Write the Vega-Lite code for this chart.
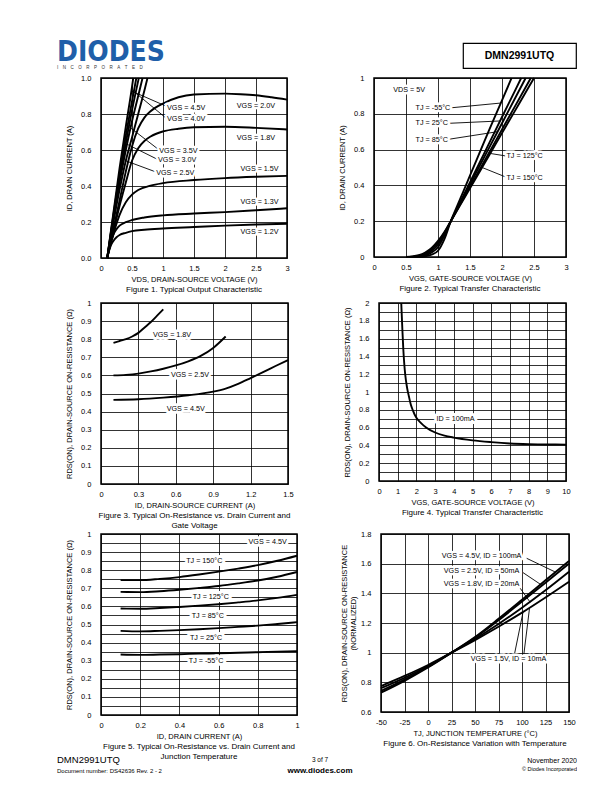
{
"$schema": "https://vega.github.io/schema/vega-lite/v6.json",
"padding": {"left": 57, "top": 30, "right": 0, "bottom": 0},
"background": "white",
"spacing": 3,
"config": {
  "font": "Liberation Sans",
  "view": {"stroke": "black", "strokeWidth": 1.5},
  "axis": {"domain": false, "ticks": false, "grid": true, "gridColor": "black", "gridWidth": 0.8, "gridOpacity": 1, "labelFont": "Liberation Sans", "labelFontSize": 7.5, "labelColor": "black", "labelOverlap": false, "labelFlush": false, "titleFont": "Liberation Sans", "titleFontSize": 7.5, "titleFontWeight": "normal", "titleColor": "black"},
  "axisX": {"labelPadding": 6.5, "titlePadding": 3.5},
  "axisY": {"labelPadding": 10, "titlePadding": 7},
  "title": {"orient": "bottom", "anchor": "middle", "frame": "group", "font": "Liberation Sans", "fontSize": 8, "fontWeight": "normal", "offset": 3, "lineHeight": 9.5, "color": "black"},
  "line": {"color": "black", "strokeWidth": 1.9, "interpolate": "monotone", "clip": true},
  "rule": {"color": "black", "strokeWidth": 0.9},
  "text": {"font": "Liberation Sans", "fontSize": 7.2, "color": "black", "baseline": "middle"}
},
"datasets": {
  "f1": [
    {"s":"1.2","x":0.1,"y":0},{"s":"1.2","x":0.13,"y":0.04},{"s":"1.2","x":0.16,"y":0.07},{"s":"1.2","x":0.2,"y":0.095},{"s":"1.2","x":0.25,"y":0.115},{"s":"1.2","x":0.3,"y":0.128},{"s":"1.2","x":0.4,"y":0.14},{"s":"1.2","x":0.5,"y":0.149},{"s":"1.2","x":0.7,"y":0.157},{"s":"1.2","x":1,"y":0.164},{"s":"1.2","x":1.5,"y":0.172},{"s":"1.2","x":2,"y":0.18},{"s":"1.2","x":2.5,"y":0.186},{"s":"1.2","x":3,"y":0.19},
    {"s":"1.3","x":0.1,"y":0},{"s":"1.3","x":0.13,"y":0.05},{"s":"1.3","x":0.17,"y":0.1},{"s":"1.3","x":0.2,"y":0.13},{"s":"1.3","x":0.25,"y":0.16},{"s":"1.3","x":0.3,"y":0.18},{"s":"1.3","x":0.4,"y":0.199},{"s":"1.3","x":0.5,"y":0.211},{"s":"1.3","x":0.7,"y":0.225},{"s":"1.3","x":1,"y":0.237},{"s":"1.3","x":1.5,"y":0.247},{"s":"1.3","x":2,"y":0.255},{"s":"1.3","x":2.5,"y":0.265},{"s":"1.3","x":3,"y":0.276},
    {"s":"1.5","x":0.1,"y":0},{"s":"1.5","x":0.14,"y":0.06},{"s":"1.5","x":0.2,"y":0.13},{"s":"1.5","x":0.25,"y":0.19},{"s":"1.5","x":0.3,"y":0.24},{"s":"1.5","x":0.4,"y":0.31},{"s":"1.5","x":0.5,"y":0.352},{"s":"1.5","x":0.6,"y":0.378},{"s":"1.5","x":0.8,"y":0.402},{"s":"1.5","x":1,"y":0.416},{"s":"1.5","x":1.5,"y":0.433},{"s":"1.5","x":2,"y":0.444},{"s":"1.5","x":2.5,"y":0.451},{"s":"1.5","x":3,"y":0.456},
    {"s":"1.8","x":0.1,"y":0},{"s":"1.8","x":0.2,"y":0.15},{"s":"1.8","x":0.3,"y":0.29},{"s":"1.8","x":0.4,"y":0.42},{"s":"1.8","x":0.5,"y":0.54},{"s":"1.8","x":0.6,"y":0.61},{"s":"1.8","x":0.7,"y":0.65},{"s":"1.8","x":0.8,"y":0.675},{"s":"1.8","x":1,"y":0.703},{"s":"1.8","x":1.25,"y":0.718},{"s":"1.8","x":1.5,"y":0.726},{"s":"1.8","x":2,"y":0.729},{"s":"1.8","x":2.5,"y":0.723},{"s":"1.8","x":3,"y":0.714},
    {"s":"2.0","x":0.1,"y":0},{"s":"2.0","x":0.2,"y":0.16},{"s":"2.0","x":0.3,"y":0.32},{"s":"2.0","x":0.4,"y":0.48},{"s":"2.0","x":0.5,"y":0.62},{"s":"2.0","x":0.6,"y":0.72},{"s":"2.0","x":0.7,"y":0.78},{"s":"2.0","x":0.8,"y":0.815},{"s":"2.0","x":1,"y":0.858},{"s":"2.0","x":1.25,"y":0.893},{"s":"2.0","x":1.5,"y":0.908},{"s":"2.0","x":2,"y":0.913},{"s":"2.0","x":2.25,"y":0.91},{"s":"2.0","x":2.5,"y":0.904},{"s":"2.0","x":2.75,"y":0.893},{"s":"2.0","x":3,"y":0.88},
    {"s":"2.5","x":0.1,"y":0},{"s":"2.5","x":0.2,"y":0.2},{"s":"2.5","x":0.3,"y":0.38},{"s":"2.5","x":0.4,"y":0.54},{"s":"2.5","x":0.5,"y":0.67},{"s":"2.5","x":0.6,"y":0.8},{"s":"2.5","x":0.7,"y":0.93},{"s":"2.5","x":0.75,"y":1},
    {"s":"3.0","x":0.1,"y":0},{"s":"3.0","x":0.2,"y":0.22},{"s":"3.0","x":0.3,"y":0.42},{"s":"3.0","x":0.4,"y":0.6},{"s":"3.0","x":0.5,"y":0.76},{"s":"3.0","x":0.6,"y":0.9},{"s":"3.0","x":0.67,"y":1},
    {"s":"3.5","x":0.1,"y":0},{"s":"3.5","x":0.2,"y":0.23},{"s":"3.5","x":0.3,"y":0.44},{"s":"3.5","x":0.38,"y":0.6},{"s":"3.5","x":0.5,"y":0.82},{"s":"3.5","x":0.61,"y":1},
    {"s":"4.0","x":0.1,"y":0},{"s":"4.0","x":0.2,"y":0.24},{"s":"4.0","x":0.3,"y":0.47},{"s":"4.0","x":0.4,"y":0.68},{"s":"4.0","x":0.5,"y":0.87},{"s":"4.0","x":0.57,"y":1},
    {"s":"4.5","x":0.1,"y":0},{"s":"4.5","x":0.2,"y":0.25},{"s":"4.5","x":0.3,"y":0.5},{"s":"4.5","x":0.4,"y":0.73},{"s":"4.5","x":0.5,"y":0.95},{"s":"4.5","x":0.52,"y":1}
  ],
  "f1lab": [
    {"t":"VGS = 4.5V","x":1.065,"y":0.836},{"t":"VGS = 4.0V","x":1.065,"y":0.77},{"t":"VGS = 3.5V","x":0.94,"y":0.597},{"t":"VGS = 3.0V","x":0.92,"y":0.544},{"t":"VGS = 2.5V","x":0.89,"y":0.474},
    {"t":"VGS = 2.0V","x":2.19,"y":0.845},{"t":"VGS = 1.8V","x":2.19,"y":0.666},{"t":"VGS = 1.5V","x":2.25,"y":0.496},{"t":"VGS = 1.3V","x":2.25,"y":0.31},{"t":"VGS = 1.2V","x":2.25,"y":0.142}
  ],
  "f1lead": [
    {"x":1.04,"y":0.845,"x2":0.49,"y2":0.928},{"x":1.04,"y":0.78,"x2":0.53,"y2":0.925},{"x":0.92,"y":0.605,"x2":0.45,"y2":0.73},{"x":0.9,"y":0.55,"x2":0.42,"y2":0.632},{"x":0.87,"y":0.48,"x2":0.4,"y2":0.54}
  ],
  "f2": [
    {"s":"-55","x":0.7,"y":0},{"s":"-55","x":0.8,"y":0.004},{"s":"-55","x":0.9,"y":0.013},{"s":"-55","x":1.0,"y":0.035},{"s":"-55","x":1.1,"y":0.1},{"s":"-55","x":1.2,"y":0.2},{"s":"-55","x":1.3,"y":0.285},{"s":"-55","x":1.4,"y":0.37},{"s":"-55","x":1.6,"y":0.54},{"s":"-55","x":1.8,"y":0.71},{"s":"-55","x":2.0,"y":0.875},{"s":"-55","x":2.15,"y":1},
    {"s":"25","x":0.65,"y":0},{"s":"25","x":0.8,"y":0.008},{"s":"25","x":0.9,"y":0.025},{"s":"25","x":1.0,"y":0.055},{"s":"25","x":1.1,"y":0.12},{"s":"25","x":1.2,"y":0.2},{"s":"25","x":1.3,"y":0.272},{"s":"25","x":1.4,"y":0.345},{"s":"25","x":1.6,"y":0.49},{"s":"25","x":1.8,"y":0.636},{"s":"25","x":2.0,"y":0.782},{"s":"25","x":2.2,"y":0.927},{"s":"25","x":2.3,"y":1},
    {"s":"85","x":0.6,"y":0},{"s":"85","x":0.7,"y":0.004},{"s":"85","x":0.8,"y":0.013},{"s":"85","x":0.9,"y":0.035},{"s":"85","x":1.0,"y":0.07},{"s":"85","x":1.1,"y":0.13},{"s":"85","x":1.2,"y":0.2},{"s":"85","x":1.3,"y":0.268},{"s":"85","x":1.4,"y":0.337},{"s":"85","x":1.6,"y":0.474},{"s":"85","x":1.8,"y":0.611},{"s":"85","x":2.0,"y":0.747},{"s":"85","x":2.2,"y":0.884},{"s":"85","x":2.37,"y":1},
    {"s":"125","x":0.55,"y":0},{"s":"125","x":0.7,"y":0.007},{"s":"125","x":0.8,"y":0.02},{"s":"125","x":0.9,"y":0.045},{"s":"125","x":1.0,"y":0.08},{"s":"125","x":1.1,"y":0.135},{"s":"125","x":1.2,"y":0.2},{"s":"125","x":1.4,"y":0.328},{"s":"125","x":1.6,"y":0.456},{"s":"125","x":1.8,"y":0.584},{"s":"125","x":2.0,"y":0.712},{"s":"125","x":2.2,"y":0.84},{"s":"125","x":2.45,"y":1},
    {"s":"150","x":0.5,"y":0},{"s":"150","x":0.6,"y":0.003},{"s":"150","x":0.7,"y":0.01},{"s":"150","x":0.8,"y":0.025},{"s":"150","x":0.9,"y":0.05},{"s":"150","x":1.0,"y":0.09},{"s":"150","x":1.1,"y":0.14},{"s":"150","x":1.2,"y":0.2},{"s":"150","x":1.4,"y":0.323},{"s":"150","x":1.6,"y":0.446},{"s":"150","x":1.8,"y":0.569},{"s":"150","x":2.0,"y":0.692},{"s":"150","x":2.2,"y":0.815},{"s":"150","x":2.4,"y":0.938},{"s":"150","x":2.5,"y":1}
  ],
  "f2lab": [
    {"t":"VDS = 5V","x":0.3,"y":0.935},{"t":"TJ = -55°C","x":0.65,"y":0.832},{"t":"TJ = 25°C","x":0.65,"y":0.746},{"t":"TJ = 85°C","x":0.65,"y":0.655},{"t":"TJ = 125°C","x":2.07,"y":0.565},{"t":"TJ = 150°C","x":2.07,"y":0.444}
  ],
  "f2lead": [
    {"x":1.16,"y":0.832,"x2":1.98,"y2":0.86},{"x":1.12,"y":0.746,"x2":1.97,"y2":0.76},{"x":1.12,"y":0.655,"x2":1.93,"y2":0.7},{"x":2.05,"y":0.565,"x2":1.79,"y2":0.58},{"x":2.05,"y":0.448,"x2":1.69,"y2":0.5}
  ],
  "f3": [
    {"s":"1.8","x":0.1,"y":0.78},{"s":"1.8","x":0.15,"y":0.79},{"s":"1.8","x":0.2,"y":0.8},{"s":"1.8","x":0.25,"y":0.815},{"s":"1.8","x":0.3,"y":0.835},{"s":"1.8","x":0.35,"y":0.865},{"s":"1.8","x":0.4,"y":0.895},{"s":"1.8","x":0.45,"y":0.93},{"s":"1.8","x":0.5,"y":0.965},
    {"s":"2.5","x":0.1,"y":0.6},{"s":"2.5","x":0.2,"y":0.603},{"s":"2.5","x":0.3,"y":0.61},{"s":"2.5","x":0.4,"y":0.622},{"s":"2.5","x":0.5,"y":0.637},{"s":"2.5","x":0.6,"y":0.655},{"s":"2.5","x":0.7,"y":0.678},{"s":"2.5","x":0.8,"y":0.708},{"s":"2.5","x":0.9,"y":0.752},{"s":"2.5","x":1.0,"y":0.815},
    {"s":"4.5","x":0.1,"y":0.465},{"s":"4.5","x":0.3,"y":0.468},{"s":"4.5","x":0.5,"y":0.477},{"s":"4.5","x":0.7,"y":0.49},{"s":"4.5","x":0.9,"y":0.51},{"s":"4.5","x":1.0,"y":0.527},{"s":"4.5","x":1.1,"y":0.553},{"s":"4.5","x":1.2,"y":0.585},{"s":"4.5","x":1.3,"y":0.618},{"s":"4.5","x":1.4,"y":0.652},{"s":"4.5","x":1.5,"y":0.685}
  ],
  "f3lab": [
    {"t":"VGS = 1.8V","x":0.57,"y":0.825},{"t":"VGS = 2.5V","x":0.714,"y":0.601},{"t":"VGS = 4.5V","x":0.68,"y":0.417}
  ],
  "f4": [
    {"x":1.19,"y":2},{"x":1.22,"y":1.85},{"x":1.25,"y":1.7},{"x":1.3,"y":1.48},{"x":1.35,"y":1.32},{"x":1.4,"y":1.2},{"x":1.5,"y":1.05},{"x":1.6,"y":0.95},{"x":1.7,"y":0.86},{"x":1.8,"y":0.8},{"x":2,"y":0.71},{"x":2.25,"y":0.65},{"x":2.5,"y":0.605},{"x":3,"y":0.545},{"x":3.5,"y":0.51},{"x":4,"y":0.488},{"x":5,"y":0.457},{"x":6,"y":0.437},{"x":7,"y":0.422},{"x":8,"y":0.414},{"x":9,"y":0.41},{"x":10,"y":0.409}
  ],
  "f4lab": [{"t":"ID = 100mA","x":4.09,"y":0.7}],
  "f5": [
    {"s":"150","x":0.1,"y":0.745},{"s":"150","x":0.2,"y":0.745},{"s":"150","x":0.3,"y":0.752},{"s":"150","x":0.4,"y":0.762},{"s":"150","x":0.5,"y":0.776},{"s":"150","x":0.6,"y":0.792},{"s":"150","x":0.7,"y":0.809},{"s":"150","x":0.8,"y":0.828},{"s":"150","x":0.9,"y":0.852},{"s":"150","x":1,"y":0.88},
    {"s":"125","x":0.1,"y":0.68},{"s":"125","x":0.2,"y":0.679},{"s":"125","x":0.3,"y":0.684},{"s":"125","x":0.4,"y":0.692},{"s":"125","x":0.5,"y":0.702},{"s":"125","x":0.6,"y":0.713},{"s":"125","x":0.7,"y":0.727},{"s":"125","x":0.8,"y":0.743},{"s":"125","x":0.9,"y":0.764},{"s":"125","x":1,"y":0.79},
    {"s":"85","x":0.1,"y":0.588},{"s":"85","x":0.2,"y":0.587},{"s":"85","x":0.3,"y":0.591},{"s":"85","x":0.4,"y":0.597},{"s":"85","x":0.5,"y":0.604},{"s":"85","x":0.6,"y":0.612},{"s":"85","x":0.7,"y":0.622},{"s":"85","x":0.8,"y":0.633},{"s":"85","x":0.9,"y":0.647},{"s":"85","x":1,"y":0.664},
    {"s":"25","x":0.1,"y":0.465},{"s":"25","x":0.2,"y":0.462},{"s":"25","x":0.3,"y":0.465},{"s":"25","x":0.4,"y":0.469},{"s":"25","x":0.5,"y":0.474},{"s":"25","x":0.6,"y":0.48},{"s":"25","x":0.7,"y":0.487},{"s":"25","x":0.8,"y":0.494},{"s":"25","x":0.9,"y":0.503},{"s":"25","x":1,"y":0.513},
    {"s":"-55","x":0.1,"y":0.334},{"s":"-55","x":0.2,"y":0.332},{"s":"-55","x":0.3,"y":0.334},{"s":"-55","x":0.4,"y":0.336},{"s":"-55","x":0.5,"y":0.339},{"s":"-55","x":0.6,"y":0.341},{"s":"-55","x":0.7,"y":0.344},{"s":"-55","x":0.8,"y":0.347},{"s":"-55","x":0.9,"y":0.35},{"s":"-55","x":1,"y":0.353}
  ],
  "f5lab": [
    {"t":"VGS = 4.5V","x":0.85,"y":0.954},{"t":"TJ = 150°C","x":0.527,"y":0.853},{"t":"TJ = 125°C","x":0.56,"y":0.651},{"t":"TJ = 85°C","x":0.545,"y":0.547},{"t":"TJ = 25°C","x":0.536,"y":0.426},{"t":"TJ = -55°C","x":0.536,"y":0.297}
  ],
  "f6": [
    {"s":"a","x":-50,"y":0.73},{"s":"a","x":-25,"y":0.81},{"s":"a","x":0,"y":0.9},{"s":"a","x":25,"y":1},{"s":"a","x":50,"y":1.105},{"s":"a","x":75,"y":1.228},{"s":"a","x":100,"y":1.357},{"s":"a","x":125,"y":1.488},{"s":"a","x":150,"y":1.618},
    {"s":"b","x":-50,"y":0.742},{"s":"b","x":-25,"y":0.818},{"s":"b","x":0,"y":0.905},{"s":"b","x":25,"y":1},{"s":"b","x":50,"y":1.1},{"s":"b","x":75,"y":1.218},{"s":"b","x":100,"y":1.345},{"s":"b","x":125,"y":1.472},{"s":"b","x":150,"y":1.6},
    {"s":"c","x":-50,"y":0.76},{"s":"c","x":-25,"y":0.83},{"s":"c","x":0,"y":0.91},{"s":"c","x":25,"y":1},{"s":"c","x":50,"y":1.092},{"s":"c","x":75,"y":1.193},{"s":"c","x":100,"y":1.303},{"s":"c","x":125,"y":1.42},{"s":"c","x":150,"y":1.545},
    {"s":"d","x":-50,"y":0.775},{"s":"d","x":-25,"y":0.843},{"s":"d","x":0,"y":0.917},{"s":"d","x":25,"y":1},{"s":"d","x":50,"y":1.085},{"s":"d","x":75,"y":1.175},{"s":"d","x":100,"y":1.27},{"s":"d","x":125,"y":1.372},{"s":"d","x":150,"y":1.478}
  ],
  "f6lab": [
    {"t":"VGS = 4.5V, ID = 100mA","x":57,"y":1.652},{"t":"VGS = 2.5V, ID = 50mA","x":57,"y":1.553},{"t":"VGS = 1.8V, ID = 20mA","x":57,"y":1.46},{"t":"VGS = 1.5V, ID = 10mA","x":85.6,"y":0.96}
  ],
  "f6lead": [
    {"x":105,"y":1.636,"x2":135,"y2":1.545},{"x":101,"y":1.54,"x2":121,"y2":1.455},{"x":98,"y":1.435,"x2":108.7,"y2":1.34},{"x":92,"y":0.99,"x2":101,"y2":1.27},{"x":102,"y":0.99,"x2":108,"y2":1.3}
  ]
},
"vconcat": [
  {"hconcat": [
    {"width": 2, "height": 36, "view": {"stroke": null},
     "data": {"values": [{"t": "DIODES"}]},
     "layer": [
       {"mark": {"type": "text", "font": "DejaVu Sans Condensed, DejaVu Sans", "fontWeight": "bold", "fontSize": 28, "color": "#1f5fa9", "align": "left", "baseline": "alphabetic", "dx": -45, "dy": 9}, "encoding": {"text": {"field": "t"}}},
       {"mark": {"type": "text", "fontSize": 4.5, "color": "#333333", "align": "left", "baseline": "alphabetic", "dx": -45, "dy": 16.5, "text": "I\u2003N\u2003C\u2003O\u2003R\u2003P\u2003O\u2003R\u2003A\u2003T\u2003E\u2003D"}, "encoding": {}}
     ]},
    {"vconcat": [
      {"width": 113, "height": 1, "view": {"stroke": null}, "data": {"values": [{}]}, "mark": {"type": "text", "text": ""}, "encoding": {}},
      {"width": 113, "height": 25, "view": {"stroke": "black", "strokeWidth": 1.2},
       "data": {"values": [{"t": "DMN2991UTQ"}]},
       "mark": {"type": "text", "fontWeight": "bold", "fontSize": 10.5},
       "encoding": {"text": {"field": "t"}}}
    ], "spacing": 8, "bounds": "flush"}
  ], "spacing": 360, "bounds": "flush"},
  {"vconcat": [
    {"hconcat": [
      {"width": 186, "height": 180,
       "title": {"text": "Figure 1. Typical Output Characteristic"},
       "encoding": {
         "x": {"field": "x", "type": "quantitative", "scale": {"domain": [0, 3], "nice": false}, "axis": {"title": "VDS, DRAIN-SOURCE VOLTAGE (V)", "values": [0, 0.5, 1, 1.5, 2, 2.5, 3], "format": "~g"}},
         "y": {"field": "y", "type": "quantitative", "scale": {"domain": [0, 1], "nice": false}, "axis": {"title": "ID, DRAIN CURRENT (A)", "values": [0, 0.2, 0.4, 0.6, 0.8, 1], "format": ".1f"}}},
       "layer": [
         {"data": {"name": "f1"}, "mark": {"type": "line"}, "encoding": {"detail": {"field": "s"}}},
         {"data": {"name": "f1lead"}, "mark": {"type": "rule"}, "encoding": {"x2": {"field": "x2"}, "y2": {"field": "y2"}}},
         {"data": {"name": "f1lab"}, "mark": {"type": "text", "align": "left", "fill": "white", "stroke": "white", "strokeWidth": 5, "strokeJoin": "round"}, "encoding": {"text": {"field": "t"}}},
         {"data": {"name": "f1lab"}, "mark": {"type": "text", "align": "left"}, "encoding": {"text": {"field": "t"}}}
       ]},
      {"width": 192, "height": 179,
       "title": {"text": "Figure 2. Typical Transfer Characteristic"},
       "encoding": {
         "x": {"field": "x", "type": "quantitative", "scale": {"domain": [0, 3], "nice": false}, "axis": {"title": "VGS, GATE-SOURCE VOLTAGE (V)", "values": [0, 0.5, 1, 1.5, 2, 2.5, 3], "format": "~g"}},
         "y": {"field": "y", "type": "quantitative", "scale": {"domain": [0, 1], "nice": false}, "axis": {"title": "ID, DRAIN CURRENT (A)", "values": [0, 0.2, 0.4, 0.6, 0.8, 1], "format": "~g"}}},
       "layer": [
         {"data": {"name": "f2"}, "mark": {"type": "line"}, "encoding": {"detail": {"field": "s"}}},
         {"data": {"name": "f2lead"}, "mark": {"type": "rule"}, "encoding": {"x2": {"field": "x2"}, "y2": {"field": "y2"}}},
         {"data": {"name": "f2lab"}, "mark": {"type": "text", "align": "left", "fill": "white", "stroke": "white", "strokeWidth": 5, "strokeJoin": "round"}, "encoding": {"text": {"field": "t"}}},
         {"data": {"name": "f2lab"}, "mark": {"type": "text", "align": "left"}, "encoding": {"text": {"field": "t"}}}
       ]}
    ], "spacing": 45},
    {"vconcat": [
      {"hconcat": [
        {"width": 187, "height": 181,
         "title": {"text": ["Figure 3. Typical On-Resistance vs. Drain Current and", "Gate Voltage"]},
         "encoding": {
           "x": {"field": "x", "type": "quantitative", "scale": {"domain": [0, 1.5], "nice": false}, "axis": {"title": "ID, DRAIN-SOURCE CURRENT (A)", "values": [0, 0.3, 0.6, 0.9, 1.2, 1.5], "format": "~g"}},
           "y": {"field": "y", "type": "quantitative", "scale": {"domain": [0, 1], "nice": false}, "axis": {"title": "RDS(ON), DRAIN-SOURCE ON-RESISTANCE (Ω)", "values": [0, 0.1, 0.2, 0.3, 0.4, 0.5, 0.6, 0.7, 0.8, 0.9, 1], "format": "~g"}}},
         "layer": [
           {"data": {"name": "f3"}, "mark": {"type": "line"}, "encoding": {"detail": {"field": "s"}}},
           {"data": {"name": "f3lab"}, "mark": {"type": "text", "align": "center", "fill": "white", "stroke": "white", "strokeWidth": 6, "strokeJoin": "round"}, "encoding": {"text": {"field": "t"}}},
           {"data": {"name": "f3lab"}, "mark": {"type": "text", "align": "center"}, "encoding": {"text": {"field": "t"}}}
         ]},
        {"width": 187, "height": 178,
         "title": {"text": "Figure 4. Typical Transfer Characteristic"},
         "encoding": {
           "x": {"field": "x", "type": "quantitative", "scale": {"domain": [0, 10], "nice": false}, "axis": {"title": "VGS, GATE-SOURCE VOLTAGE (V)", "values": [0, 1, 2, 3, 4, 5, 6, 7, 8, 9, 10], "format": "d"}},
           "y": {"field": "y", "type": "quantitative", "scale": {"domain": [0, 2], "nice": false}, "axis": {"title": "RDS(ON), DRAIN-SOURCE ON-RESISTANCE (Ω)", "values": [0, 0.1, 0.2, 0.3, 0.4, 0.5, 0.6, 0.7, 0.8, 0.9, 1, 1.1, 1.2, 1.3, 1.4, 1.5, 1.6, 1.7, 1.8, 1.9, 2], "format": "~g", "labelExpr": "round(datum.value*10)%2==0 ? datum.label : ''"}}},
         "layer": [
           {"data": {"name": "f4"}, "mark": {"type": "line"}},
           {"data": {"name": "f4lab"}, "mark": {"type": "text", "align": "center", "fill": "white", "stroke": "white", "strokeWidth": 6, "strokeJoin": "round"}, "encoding": {"text": {"field": "t"}}},
           {"data": {"name": "f4lab"}, "mark": {"type": "text", "align": "center"}, "encoding": {"text": {"field": "t"}}}
         ]}
      ], "spacing": 48},
      {"vconcat": [
        {"hconcat": [
          {"width": 196, "height": 181,
           "title": {"text": ["Figure 5. Typical On-Resistance vs. Drain Current and", "Junction Temperature"]},
           "encoding": {
             "x": {"field": "x", "type": "quantitative", "scale": {"domain": [0, 1], "nice": false}, "axis": {"title": "ID, DRAIN CURRENT (A)", "values": [0, 0.2, 0.4, 0.6, 0.8, 1], "format": "~g"}},
             "y": {"field": "y", "type": "quantitative", "scale": {"domain": [0, 1], "nice": false}, "axis": {"title": "RDS(ON), DRAIN-SOURCE ON-RESISTANCE (Ω)", "values": [0, 0.05, 0.1, 0.15, 0.2, 0.25, 0.3, 0.35, 0.4, 0.45, 0.5, 0.55, 0.6, 0.65, 0.7, 0.75, 0.8, 0.85, 0.9, 0.95, 1], "format": "~g", "labelExpr": "round(datum.value*20)%2==0 ? datum.label : ''"}}},
           "layer": [
             {"data": {"name": "f5"}, "mark": {"type": "line"}, "encoding": {"detail": {"field": "s"}}},
             {"data": {"name": "f5lab"}, "mark": {"type": "text", "align": "center", "fill": "white", "stroke": "white", "strokeWidth": 6, "strokeJoin": "round"}, "encoding": {"text": {"field": "t"}}},
             {"data": {"name": "f5lab"}, "mark": {"type": "text", "align": "center"}, "encoding": {"text": {"field": "t"}}}
           ]},
          {"width": 188, "height": 178,
           "title": {"text": "Figure 6. On-Resistance Variation with Temperature"},
           "encoding": {
             "x": {"field": "x", "type": "quantitative", "scale": {"domain": [-50, 150], "nice": false}, "axis": {"title": "TJ, JUNCTION TEMPERATURE (°C)", "values": [-50, -25, 0, 25, 50, 75, 100, 125, 150], "labelExpr": "'' + datum.value"}},
             "y": {"field": "y", "type": "quantitative", "scale": {"domain": [0.6, 1.8], "nice": false, "zero": false}, "axis": {"title": ["RDS(ON), DRAIN-SOURCE ON-RESISTANCE", "(NORMALIZED)"], "titlePadding": 3, "titleLineHeight": 9, "values": [0.6, 0.8, 1, 1.2, 1.4, 1.6, 1.8], "format": "~g"}}},
           "layer": [
             {"data": {"name": "f6"}, "mark": {"type": "line"}, "encoding": {"detail": {"field": "s"}}},
             {"data": {"name": "f6lead"}, "mark": {"type": "rule"}, "encoding": {"x2": {"field": "x2"}, "y2": {"field": "y2"}}},
             {"data": {"name": "f6lab"}, "mark": {"type": "text", "align": "center", "fill": "white", "stroke": "white", "strokeWidth": 5, "strokeJoin": "round"}, "encoding": {"text": {"field": "t"}}},
             {"data": {"name": "f6lab"}, "mark": {"type": "text", "align": "center"}, "encoding": {"text": {"field": "t"}}}
           ]}
        ], "spacing": 37},
        {"hconcat": [
          {"width": 140, "height": 1, "view": {"stroke": null},
           "title": {"text": "DMN2991UTQ", "subtitle": "Document number: DS42636 Rev. 2 - 2", "orient": "top", "anchor": "start", "frame": "group", "fontSize": 9.5, "subtitleFontSize": 6, "subtitleColor": "black", "subtitlePadding": 3, "dx": -44, "offset": 1},
           "data": {"values": [{}]}, "mark": {"type": "text", "text": ""}, "encoding": {}},
          {"width": 158, "height": 1, "view": {"stroke": null},
           "title": {"text": "3 of 7", "subtitle": "www.diodes.com", "orient": "top", "anchor": "middle", "frame": "group", "fontSize": 6.5, "subtitleFontSize": 8, "subtitleFontWeight": "bold", "subtitleColor": "black", "subtitlePadding": 3.5, "offset": 0},
           "data": {"values": [{}]}, "mark": {"type": "text", "text": ""}, "encoding": {}},
          {"width": 178, "height": 1, "view": {"stroke": null},
           "title": {"text": "November 2020", "subtitle": "© Diodes Incorporated", "orient": "top", "anchor": "end", "frame": "group", "fontSize": 7, "subtitleFontSize": 5.5, "subtitleColor": "black", "subtitlePadding": 3, "offset": 2},
           "data": {"values": [{}]}, "mark": {"type": "text", "text": ""}, "encoding": {}}
        ], "spacing": 0, "bounds": "flush"}
      ], "spacing": -7}
    ], "spacing": -2}
  ], "spacing": 3}
]
}
